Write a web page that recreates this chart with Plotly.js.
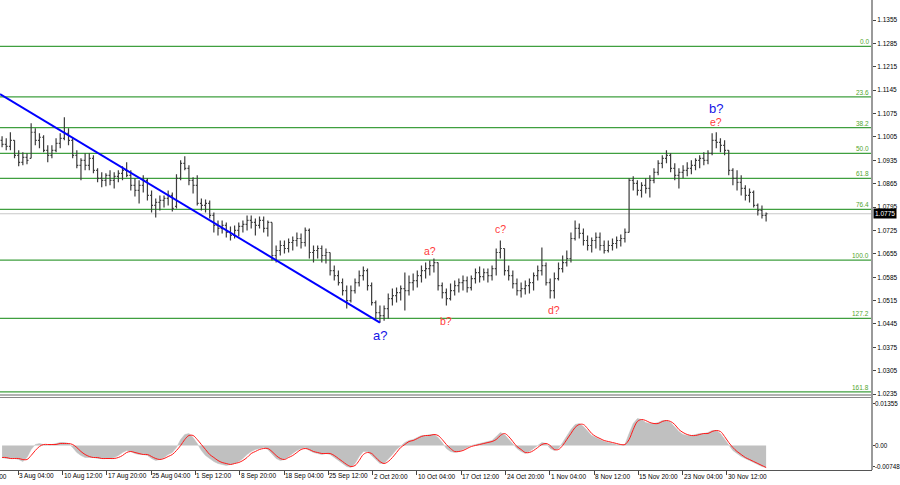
<!DOCTYPE html>
<html><head><meta charset="utf-8">
<script src="https://cdn.plot.ly/plotly-3.0.1.min.js"></script>
<style>html,body{margin:0;padding:0;background:#fff;}#chart{width:900px;height:485px;}</style>
</head><body><div id="chart"></div>
<script>
// ---- EUR/USD price bars (12h aggregation of the H4 chart) ----
const openP = [
1.0995,1.0983,1.0977,1.0995,1.0950,1.0929,1.0944,1.0941,1.1019,1.0995,
1.1004,1.0965,1.0950,1.0965,1.0986,1.1001,1.1016,1.0995,1.0950,1.0920,
1.0935,1.0920,1.0941,1.0905,1.0881,1.0875,1.0890,1.0875,1.0887,1.0896,
1.0905,1.0890,1.0860,1.0845,1.0860,1.0875,1.0830,1.0800,1.0809,1.0815,
1.0821,1.0830,1.0797,1.0881,1.0926,1.0911,1.0875,1.0860,1.0806,1.0800,
1.0806,1.0770,1.0740,1.0731,1.0740,1.0719,1.0710,1.0725,1.0737,1.0743,
1.0755,1.0749,1.0740,1.0755,1.0731,1.0749,1.0650,1.0665,1.0680,1.0671,
1.0689,1.0695,1.0701,1.0689,1.0725,1.0659,1.0665,1.0671,1.0650,1.0659,
1.0605,1.0590,1.0569,1.0545,1.0515,1.0545,1.0569,1.0590,1.0605,1.0560,
1.0509,1.0479,1.0470,1.0491,1.0521,1.0530,1.0539,1.0551,1.0545,1.0569,
1.0575,1.0590,1.0605,1.0611,1.0620,1.0629,1.0560,1.0539,1.0521,1.0545,
1.0560,1.0569,1.0575,1.0554,1.0581,1.0599,1.0587,1.0599,1.0590,1.0611,
1.0659,1.0671,1.0605,1.0590,1.0566,1.0545,1.0551,1.0560,1.0569,1.0590,
1.0605,1.0620,1.0569,1.0545,1.0581,1.0611,1.0629,1.0641,1.0701,1.0731,
1.0716,1.0695,1.0680,1.0695,1.0704,1.0680,1.0665,1.0680,1.0686,1.0695,
1.0701,1.0719,1.0875,1.0866,1.0845,1.0860,1.0851,1.0875,1.0899,1.0926,
1.0941,1.0950,1.0911,1.0890,1.0899,1.0905,1.0911,1.0920,1.0935,1.0941,
1.0935,1.0956,1.0995,1.0989,1.0980,1.0965,1.0905,1.0881,1.0869,1.0851,
1.0830,1.0839,1.0800,1.0785,1.0770];
const highP = [
1.1007,1.1001,1.1019,1.0995,1.0965,1.0959,1.0956,1.1046,1.1031,1.1016,
1.1010,1.0980,1.0980,1.1001,1.1016,1.1064,1.1031,1.1004,1.0965,1.0941,
1.0956,1.0956,1.0950,1.0911,1.0899,1.0896,1.0905,1.0899,1.0905,1.0917,
1.0929,1.0905,1.0881,1.0875,1.0890,1.0881,1.0845,1.0821,1.0830,1.0830,
1.0845,1.0839,1.0893,1.0935,1.0947,1.0920,1.0884,1.0890,1.0821,1.0818,
1.0815,1.0779,1.0755,1.0755,1.0749,1.0737,1.0740,1.0749,1.0755,1.0770,
1.0770,1.0761,1.0767,1.0767,1.0755,1.0749,1.0680,1.0695,1.0695,1.0701,
1.0707,1.0719,1.0716,1.0734,1.0731,1.0680,1.0680,1.0680,1.0671,1.0659,
1.0620,1.0605,1.0581,1.0560,1.0560,1.0581,1.0605,1.0617,1.0611,1.0569,
1.0515,1.0500,1.0500,1.0536,1.0551,1.0554,1.0560,1.0599,1.0590,1.0596,
1.0605,1.0620,1.0629,1.0635,1.0641,1.0629,1.0569,1.0551,1.0566,1.0575,
1.0581,1.0590,1.0587,1.0590,1.0611,1.0617,1.0611,1.0611,1.0620,1.0671,
1.0695,1.0671,1.0620,1.0605,1.0581,1.0569,1.0575,1.0581,1.0599,1.0620,
1.0674,1.0629,1.0581,1.0599,1.0629,1.0650,1.0665,1.0719,1.0755,1.0746,
1.0731,1.0710,1.0704,1.0719,1.0719,1.0695,1.0695,1.0701,1.0707,1.0713,
1.0731,1.0881,1.0887,1.0875,1.0869,1.0881,1.0890,1.0911,1.0935,1.0950,
1.0965,1.0956,1.0926,1.0911,1.0920,1.0929,1.0935,1.0941,1.0950,1.0959,
1.0965,1.1016,1.1019,1.1001,1.0995,1.0965,1.0911,1.0905,1.0890,1.0860,
1.0851,1.0845,1.0806,1.0800,1.0779];
const lowP = [
1.0974,1.0965,1.0965,1.0941,1.0917,1.0920,1.0923,1.0941,1.0980,1.0971,
1.0959,1.0929,1.0941,1.0959,1.0971,1.0995,1.0980,1.0941,1.0911,1.0875,
1.0905,1.0905,1.0896,1.0869,1.0854,1.0857,1.0860,1.0851,1.0869,1.0875,
1.0884,1.0845,1.0827,1.0806,1.0839,1.0815,1.0779,1.0764,1.0785,1.0794,
1.0800,1.0782,1.0791,1.0875,1.0905,1.0860,1.0836,1.0800,1.0785,1.0779,
1.0761,1.0719,1.0710,1.0716,1.0704,1.0695,1.0701,1.0707,1.0719,1.0725,
1.0731,1.0710,1.0731,1.0719,1.0707,1.0635,1.0629,1.0650,1.0656,1.0659,
1.0665,1.0677,1.0671,1.0677,1.0641,1.0629,1.0641,1.0629,1.0626,1.0590,
1.0575,1.0560,1.0530,1.0491,1.0509,1.0536,1.0557,1.0575,1.0545,1.0500,
1.0461,1.0449,1.0455,1.0461,1.0500,1.0509,1.0515,1.0485,1.0530,1.0545,
1.0554,1.0569,1.0581,1.0590,1.0599,1.0545,1.0521,1.0500,1.0515,1.0530,
1.0539,1.0545,1.0539,1.0545,1.0566,1.0569,1.0575,1.0569,1.0575,1.0590,
1.0641,1.0590,1.0575,1.0551,1.0530,1.0524,1.0533,1.0536,1.0545,1.0575,
1.0590,1.0560,1.0521,1.0521,1.0575,1.0599,1.0617,1.0629,1.0695,1.0701,
1.0680,1.0665,1.0659,1.0671,1.0665,1.0656,1.0659,1.0665,1.0671,1.0677,
1.0689,1.0719,1.0845,1.0830,1.0824,1.0836,1.0824,1.0866,1.0890,1.0911,
1.0926,1.0899,1.0875,1.0851,1.0881,1.0887,1.0893,1.0905,1.0911,1.0920,
1.0923,1.0950,1.0971,1.0959,1.0950,1.0890,1.0860,1.0845,1.0830,1.0815,
1.0809,1.0794,1.0770,1.0761,1.0752];
const closeP = [
1.0983,1.0977,1.0995,1.0950,1.0929,1.0944,1.0935,1.1019,1.0995,1.1004,
1.0965,1.0950,1.0965,1.0986,1.1001,1.1016,1.0995,1.0950,1.0920,1.0935,
1.0920,1.0941,1.0905,1.0881,1.0875,1.0890,1.0875,1.0887,1.0896,1.0905,
1.0890,1.0860,1.0845,1.0860,1.0875,1.0830,1.0800,1.0809,1.0815,1.0821,
1.0830,1.0791,1.0881,1.0926,1.0911,1.0875,1.0860,1.0806,1.0800,1.0806,
1.0770,1.0740,1.0731,1.0740,1.0719,1.0710,1.0725,1.0737,1.0743,1.0755,
1.0749,1.0740,1.0755,1.0731,1.0749,1.0650,1.0665,1.0680,1.0671,1.0689,
1.0695,1.0701,1.0689,1.0725,1.0659,1.0665,1.0671,1.0650,1.0659,1.0605,
1.0590,1.0569,1.0545,1.0515,1.0545,1.0569,1.0590,1.0605,1.0560,1.0509,
1.0479,1.0470,1.0491,1.0521,1.0530,1.0539,1.0551,1.0545,1.0569,1.0575,
1.0590,1.0605,1.0611,1.0620,1.0629,1.0560,1.0539,1.0521,1.0545,1.0560,
1.0569,1.0575,1.0554,1.0581,1.0599,1.0587,1.0599,1.0590,1.0611,1.0659,
1.0671,1.0605,1.0590,1.0566,1.0545,1.0551,1.0560,1.0569,1.0590,1.0605,
1.0620,1.0569,1.0545,1.0581,1.0611,1.0629,1.0641,1.0701,1.0731,1.0716,
1.0695,1.0680,1.0695,1.0704,1.0680,1.0665,1.0680,1.0686,1.0695,1.0701,
1.0719,1.0875,1.0866,1.0845,1.0860,1.0851,1.0875,1.0899,1.0926,1.0941,
1.0950,1.0911,1.0890,1.0899,1.0905,1.0911,1.0920,1.0935,1.0941,1.0935,
1.0956,1.0995,1.0989,1.0980,1.0965,1.0905,1.0881,1.0869,1.0851,1.0830,
1.0839,1.0800,1.0785,1.0770,1.0775];

// ---- MACD-style indicator: histogram (grey) and signal (red) ----
const macdHist = [
-0.0036,-0.0039,-0.0039,-0.0039,-0.0042,-0.0048,-0.0036,-0.0012,0.0003,0.0006,
0.0003,0,0.0003,0.0006,0.0009,0.0009,0.0006,-0.0006,-0.0021,-0.0030,
-0.0036,-0.0036,-0.0036,-0.0039,-0.0039,-0.0039,-0.0039,-0.0036,-0.0030,-0.0021,
-0.0015,-0.0018,-0.0024,-0.0027,-0.0027,-0.0030,-0.0039,-0.0045,-0.0042,-0.0036,
-0.0027,-0.0021,-0.0006,0.0018,0.0033,0.0036,0.0024,0.0006,-0.0015,-0.0030,
-0.0039,-0.0048,-0.0054,-0.0057,-0.0060,-0.0057,-0.0054,-0.0048,-0.0039,-0.0027,
-0.0018,-0.0012,-0.0009,-0.0006,-0.0012,-0.0027,-0.0039,-0.0045,-0.0042,-0.0033,
-0.0024,-0.0015,-0.0009,-0.0006,-0.0015,-0.0021,-0.0024,-0.0027,-0.0024,-0.0027,
-0.0036,-0.0045,-0.0054,-0.0063,-0.0066,-0.0054,-0.0033,-0.0018,-0.0018,-0.0030,
-0.0045,-0.0054,-0.0054,-0.0042,-0.0027,-0.0012,0,0.0009,0.0015,0.0018,
0.0024,0.0030,0.0030,0.0033,0.0033,0.0024,0.0009,-0.0009,-0.0018,-0.0021,
-0.0018,-0.0012,-0.0006,0,0.0003,0.0006,0.0009,0.0012,0.0015,0.0027,
0.0039,0.0033,0.0018,0.0003,-0.0009,-0.0018,-0.0024,-0.0018,-0.0009,0,
0.0009,0.0006,-0.0009,-0.0015,-0.0009,0.0009,0.0030,0.0048,0.0063,0.0066,
0.0057,0.0042,0.0030,0.0024,0.0018,0.0012,0.0009,0.0006,0.0003,0.0003,
0.0003,0.0036,0.0066,0.0081,0.0078,0.0069,0.0066,0.0066,0.0069,0.0075,
0.0075,0.0069,0.0054,0.0042,0.0033,0.0030,0.0030,0.0033,0.0036,0.0036,
0.0039,0.0045,0.0045,0.0036,0.0018,0,-0.0015,-0.0024,-0.0033,-0.0039,
-0.0045,-0.0051,-0.0057,-0.0063,-0.0066];
const macdSignal = [
-0.0036,-0.0036,-0.0039,-0.0039,-0.0039,-0.0042,-0.0042,-0.0030,-0.0015,-0.0003,
0.0003,0.0003,0.0003,0.0003,0.0006,0.0006,0.0006,0.0003,-0.0006,-0.0018,
-0.0027,-0.0033,-0.0036,-0.0036,-0.0039,-0.0039,-0.0039,-0.0039,-0.0036,-0.0030,
-0.0021,-0.0018,-0.0021,-0.0024,-0.0027,-0.0027,-0.0033,-0.0039,-0.0042,-0.0039,
-0.0033,-0.0027,-0.0015,0,0.0018,0.0030,0.0030,0.0018,0.0003,-0.0012,
-0.0027,-0.0036,-0.0045,-0.0051,-0.0054,-0.0057,-0.0054,-0.0051,-0.0045,-0.0036,
-0.0024,-0.0018,-0.0012,-0.0009,-0.0009,-0.0018,-0.0030,-0.0039,-0.0042,-0.0036,
-0.0030,-0.0021,-0.0012,-0.0009,-0.0012,-0.0018,-0.0021,-0.0024,-0.0024,-0.0024,
-0.0030,-0.0039,-0.0048,-0.0057,-0.0063,-0.0060,-0.0045,-0.0027,-0.0021,-0.0024,
-0.0036,-0.0048,-0.0054,-0.0048,-0.0036,-0.0021,-0.0006,0.0003,0.0012,0.0015,
0.0021,0.0027,0.0030,0.0030,0.0033,0.0030,0.0018,0.0003,-0.0009,-0.0018,
-0.0018,-0.0015,-0.0009,-0.0003,0,0.0003,0.0006,0.0009,0.0012,0.0018,
0.0030,0.0036,0.0027,0.0012,-0.0003,-0.0012,-0.0021,-0.0021,-0.0015,-0.0006,
0.0003,0.0006,0,-0.0012,-0.0012,0,0.0018,0.0036,0.0054,0.0063,
0.0063,0.0051,0.0036,0.0027,0.0021,0.0015,0.0012,0.0009,0.0006,0.0003,
0.0003,0.0018,0.0048,0.0072,0.0078,0.0075,0.0069,0.0066,0.0066,0.0072,
0.0075,0.0072,0.0063,0.0048,0.0039,0.0033,0.0030,0.0030,0.0033,0.0036,
0.0036,0.0042,0.0045,0.0042,0.0027,0.0009,-0.0006,-0.0018,-0.0027,-0.0036,
-0.0042,-0.0048,-0.0054,-0.0060,-0.0066];

// ---- Fibonacci grid ----
const fibLabels = ['0.0','23.6','38.2','50.0','61.8','76.4','100.0','127.2','161.8'];
const fibPrices = [1.1276,1.1125,1.1033,1.0956,1.0881,1.0788,1.0636,1.0462,1.0242];

// ---- axis labels ----
const priceTicks = [1.1355,1.1285,1.1215,1.1145,1.1075,1.1005,1.0935,1.0865,1.0795,1.0725,1.0655,1.0585,1.0515,1.0445,1.0375,1.0305,1.0235];
const timeLabels = ['3 Aug 04:00','10 Aug 12:00','17 Aug 20:00','25 Aug 04:00','1 Sep 12:00','8 Sep 20:00','18 Sep 04:00','25 Sep 12:00','2 Oct 20:00','10 Oct 04:00','17 Oct 12:00','24 Oct 20:00','1 Nov 04:00','8 Nov 12:00','15 Nov 20:00','23 Nov 04:00','30 Nov 12:00'];
const prevTimeLabel = '26 Jul 20:00';
const indTickText = ['0.01355','0.00','-0.00748'];
const indTickVals = [0.01275,0,-0.00615];

// ---- wave marks (anchored to bars) ----
const waveLabels = [
  {t:'a?', bar:91,  at:'low',  c:'#1414e6', s:13,   dy:-13},
  {t:'a?', bar:103, at:'high', c:'#ff3b3b', s:10.5, dy:10},
  {t:'b?', bar:107, at:'low',  c:'#ff3b3b', s:10.5, dy:-15},
  {t:'c?', bar:120, at:'high', c:'#ff3b3b', s:10.5, dy:11},
  {t:'d?', bar:133, at:'low',  c:'#ff3b3b', s:10.5, dy:-11},
  {t:'b?', bar:172, at:'high', c:'#1414e6', s:13,   dy:24},
  {t:'e?', bar:172, at:'high', c:'#ff3b3b', s:10.5, dy:10}
];
const trendStart = {x:-0.5, y:1.1133};
const trendEndBar = 91;

const N = closeP.length;
const barIdx = closeP.map((_, i) => i);
const lastClose = closeP[N-1];

const PLOT_H = 470;
const py = px => (PLOT_H - px) / PLOT_H;
const tickStart = 3.906, tickStep = 10.667;
const tickPos = timeLabels.map((_, i) => tickStart + tickStep * i);
const FONT = 'Liberation Sans, Arial, sans-serif';

const traces = [
  {type:'ohlc', x:barIdx, open:openP, high:highP, low:lowP, close:closeP,
   increasing:{line:{color:'#3c3c3c', width:1.2}}, decreasing:{line:{color:'#3c3c3c', width:1.2}},
   tickwidth:0.35, hoverinfo:'skip', xaxis:'x', yaxis:'y'},
  {type:'scatter', mode:'lines', x:[trendStart.x, trendEndBar], y:[trendStart.y, lowP[trendEndBar]],
   line:{color:'#0000ff', width:2}, hoverinfo:'skip', xaxis:'x', yaxis:'y'},
  {type:'scatter', mode:'lines', x:barIdx, y:macdHist, fill:'tozeroy', fillcolor:'#c0c0c0',
   line:{color:'#c0c0c0', width:0.5}, hoverinfo:'skip', xaxis:'x', yaxis:'y2'},
  {type:'scatter', mode:'lines', x:barIdx, y:macdSignal, line:{color:'#ff1a1a', width:1, shape:'spline'},
   hoverinfo:'skip', xaxis:'x', yaxis:'y2'}
];

const shapes = [];
fibPrices.forEach(p => shapes.push({type:'line', xref:'paper', x0:0, x1:1, yref:'y', y0:p, y1:p,
  line:{color:'#3f9f3f', width:1.3}, layer:'below'}));
shapes.push({type:'line', xref:'paper', x0:0, x1:1, yref:'y', y0:lastClose, y1:lastClose,
  line:{color:'#c8c8c8', width:1}, layer:'below'});
shapes.push({type:'line', xref:'paper', x0:0, x1:1, yref:'paper', y0:py(395), y1:py(395), line:{color:'#666', width:1.2}});
shapes.push({type:'line', xref:'paper', x0:0, x1:1, yref:'paper', y0:py(397.5), y1:py(397.5), line:{color:'#888', width:1}});
shapes.push({type:'line', xref:'paper', x0:1, x1:1, yref:'paper', y0:0, y1:1, line:{color:'#9a9a9a', width:2}});

const annotations = [];
fibLabels.forEach((t, i) => annotations.push({xref:'paper', x:1, xanchor:'right', xshift:-1, yref:'y', y:fibPrices[i],
  yanchor:'bottom', yshift:-1, text:t, showarrow:false, font:{family:FONT, size:6.5, color:'#52a52e'}}));
timeLabels.forEach((t, i) => annotations.push({xref:'x', x:tickPos[i], xanchor:'left', xshift:-1, yref:'paper', y:py(476.5),
  yanchor:'middle', text:t, showarrow:false, font:{family:FONT, size:6.5, color:'#000'}}));
annotations.push({xref:'paper', x:0, xanchor:'right', xshift:9, yref:'paper', y:py(476.5), yanchor:'middle',
  text:prevTimeLabel, showarrow:false, font:{family:FONT, size:6.5, color:'#000'}});
waveLabels.forEach(w => annotations.push({xref:'x', x:w.bar, yref:'y', y:(w.at==='low'?lowP[w.bar]:highP[w.bar]),
  yshift:w.dy, yanchor:'middle', text:w.t, showarrow:false, font:{family:FONT, size:w.s, color:w.c}}));
indTickText.forEach((t, i) => annotations.push({xref:'paper', x:1, xanchor:'left', xshift:1, yref:'y2', y:indTickVals[i],
  yanchor:'middle', text:t, showarrow:false, font:{family:FONT, size:6.3, color:'#000'}}));
annotations.push({xref:'paper', x:1, xanchor:'left', xshift:1, yref:'y', y:lastClose, yanchor:'middle',
  text:'1.0775', showarrow:false, bgcolor:'#000', borderpad:1, font:{family:FONT, size:6.5, color:'#fff'}});

const layout = {
  width:900, height:485, margin:{l:0, r:28, t:0, b:15},
  paper_bgcolor:'#fff', plot_bgcolor:'#fff', showlegend:false,
  xaxis:{range:[-0.5, 209.5], anchor:'y2', showgrid:false, zeroline:false, showticklabels:false,
    tickmode:'array', tickvals:tickPos, ticks:'outside', ticklen:4, tickcolor:'#444',
    showline:true, linecolor:'#555', linewidth:1.2, rangeslider:{visible:false}, fixedrange:true},
  yaxis:{domain:[py(396), 1], range:[1.1415 - 396*0.0002994, 1.1415], side:'right', anchor:'x',
    showgrid:false, zeroline:false, tickmode:'array', tickvals:priceTicks, ticktext:priceTicks.map(v => v.toFixed(4)),
    ticks:'outside', ticklen:3, tickcolor:'#444', tickfont:{family:FONT, size:6.5, color:'#000'}, fixedrange:true},
  yaxis2:{domain:[0, py(399)], range:[-0.00735, 0.01395], side:'right', anchor:'x',
    showgrid:false, zeroline:false, tickmode:'array', tickvals:indTickVals, showticklabels:false,
    ticks:'outside', ticklen:2, tickcolor:'#444', fixedrange:true},
  shapes:shapes, annotations:annotations
};

Plotly.newPlot('chart', traces, layout, {staticPlot:true, displayModeBar:false});
</script></body></html>
